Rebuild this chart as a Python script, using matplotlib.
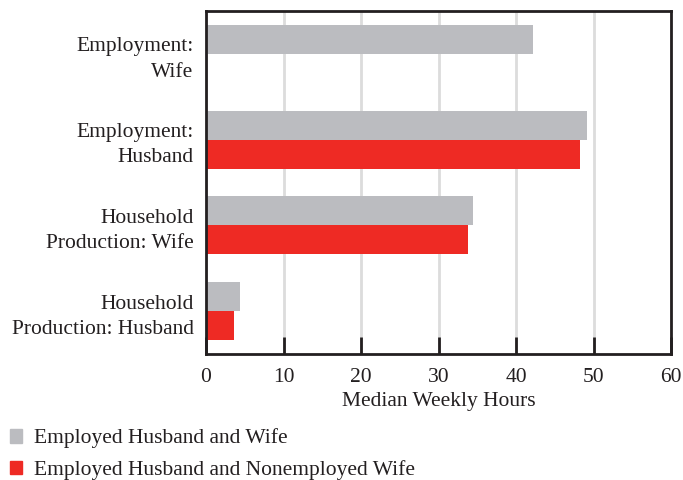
import matplotlib.pyplot as plt
from matplotlib.patches import Patch

categories = ["Employment:\nWife", "Employment:\nHusband",
              "Household\nProduction: Wife", "Household\nProduction: Husband"]
both_employed = [42.2, 49.2, 34.5, 4.4]
wife_nonemployed = [None, 48.3, 33.8, 3.6]
series_names = ["Employed Husband and Wife", "Employed Husband and Nonemployed Wife"]
xticks = [0, 10, 20, 30, 40, 50, 60]

GRAY = "#bbbcc0"
RED = "#ee2a24"
INK = "#231f20"

plt.rcParams['font.family'] = ['Liberation Serif', 'DejaVu Serif']
plt.rcParams['font.size'] = 15.5

fig = plt.figure(figsize=(6.83, 4.8), dpi=100)
ax = fig.add_axes([206/683, 1 - 354/480, 465/683, 343/480])

h = 0.337
ys = list(range(len(categories)))
for y, v in zip(ys, both_employed):
    ax.barh(y - h/2, v, height=h, color=GRAY, zorder=2)
for y, v in zip(ys, wife_nonemployed):
    if v is not None:
        ax.barh(y + h/2, v, height=h, color=RED, zorder=2)

ax.set_xlim(0, 60)
ax.set_ylim(3.5, -0.5)
ax.set_yticks(ys)
ax.set_yticklabels(categories, ha="right", linespacing=1.45, color=INK)
ax.tick_params(axis="y", length=0, pad=9)
ax.set_xticks(xticks)
ax.tick_params(axis="x", direction="in", length=12, width=2, pad=10, colors=INK)
ax.grid(axis="x", color="#dcdcdc", linewidth=2, zorder=0)
for s in ax.spines.values():
    s.set_linewidth(2)
    s.set_color(INK)
ax.set_xlabel("Median Weekly Hours", color=INK, labelpad=4)

handles = [Patch(color=GRAY), Patch(color=RED)]
fig.legend(handles, series_names, loc="lower left", bbox_to_anchor=(-0.005, -0.027),
           frameon=False, handlelength=0.6, handleheight=0.6, handletextpad=0.55,
           labelspacing=0.55, borderaxespad=0.2, labelcolor=INK)

fig.savefig("out.png", dpi=100)
